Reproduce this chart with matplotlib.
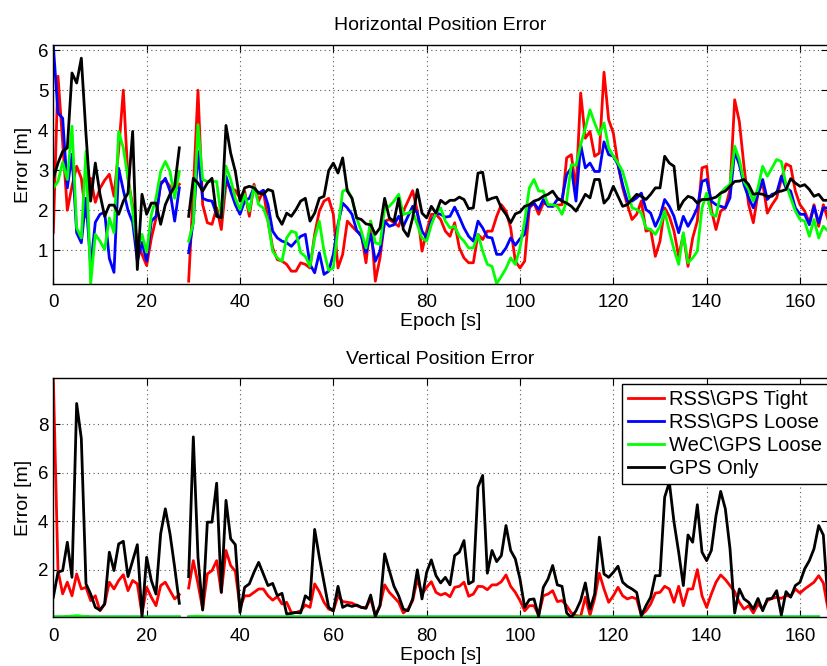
import numpy as np
import matplotlib
matplotlib.use('Agg')
import matplotlib.pyplot as plt

nan = np.nan

# horizontal position error [m], one value per epoch (0..166), gap at epoch 28
h_tight = [1.45, 5.35, 3.7, 2.0, 2.6, 3.1, 2.8, 1.83, 2.8, 2.2, 2.55, 2.75, 2.9, 2.35, 3.5, 5.0, 2.8, 2.1, 1.2, 0.9,
           0.62, 1.3, 1.8, 2.7, 2.75, 2.6, 2.5, 2.65, nan,
           0.23, 2.5, 5.0, 2.14, 1.69, 1.65, 2.06, 1.52, 2.68, 2.55, 2.5, 2.3, 2.48, 1.85, 2.65, 2.23, 2.5, 1.73, 1.06, 0.77,
           0.73, 0.65, 0.48, 0.48, 0.69, 0.65, 0.56, 1.4, 1.98, 2.23, 2.3, 1.9, 0.56, 0.9, 1.73, 1.6, 1.48,
           1.4, 0.69, 1.73, 0.23, 0.81, 1.73, 1.77, 1.69, 1.6, 1.98, 2.23, 2.49, 1.98, 0.98, 1.48, 1.9, 1.9, 1.77, 1.48,
           1.35, 1.69, 1.06, 0.81, 0.69, 0.69, 1.4, 1.27, 1.48, 1.48, 1.85, 2.14, 1.98,
           1.56, 0.73, 0.56, 0.73, 2.06, 2.18, 1.9, 2.18, 2.14, 2.1, 2.13, 2.14, 3.31, 3.39, 2.5, 4.93, 3.8, 3.97, 3.35,
           3.43, 5.45, 4.26, 3.93, 3.14, 2.56, 2.14, 1.77, 1.9, 2.23, 1.48, 1.52, 0.85, 1.23,
           2.06, 1.85, 1.48, 0.85, 1.4, 0.6, 1.31, 1.73, 3.06, 3.1, 2.02, 1.52, 1.98, 2.06, 2.52, 4.76, 4.22, 3.1, 2.14,
           1.69, 2.43, 2.68, 1.93, 2.14, 2.31, 2.77, 3.16, 3.1, 2.48, 2.14, 1.98, 1.69, 2.14, 1.6, 2.14, 1.77]

h_loose = [6.12, 4.43, 4.3, 2.56, 3.4, 1.44, 1.19, 2.3, 0.6, 1.7, 1.9, 1.95, 0.8, 0.45, 3.05, 2.5, 2.0, 1.7, 0.73, 1.2,
           0.73, 1.73, 1.85, 2.64, 2.8, 2.48, 1.73, 2.56, nan,
           0.94, 1.73, 3.47, 2.3, 2.25, 2.23, 1.9, 1.85, 2.85, 2.48, 2.14, 1.9, 2.23, 2.3, 2.56, 2.43, 2.5, 2.14, 1.48, 1.31,
           1.23, 1.19, 1.1, 1.23, 1.35, 1.4, 0.65, 0.44, 0.94, 0.4, 0.48, 0.9, 1.65, 2.18, 2.06, 1.9, 1.5,
           1.35, 0.94, 1.4, 0.73, 0.98, 1.73, 1.6, 1.64, 1.85, 1.6, 1.85, 2.1, 1.93, 1.48, 1.31, 1.73, 1.93, 1.9, 1.83,
           1.85, 2.08, 1.83, 1.56, 1.35, 1.23, 1.73, 1.56, 1.33, 1.31, 0.9, 0.9, 1.06,
           1.31, 1.13, 1.29, 1.4, 2.1, 2.18, 2.02, 2.27, 2.1, 2.1, 2.27, 2.27, 2.89, 3.06, 2.23, 3.64, 3.06, 3.18, 2.97,
           2.97, 3.71, 3.39, 3.35, 3.14, 2.64, 2.23, 2.23, 2.31, 2.43, 2.02, 1.93, 1.6, 1.85,
           2.27, 2.1, 1.85, 1.44, 1.85, 1.6, 1.81, 2.06, 2.72, 2.77, 2.23, 2.14, 2.1, 2.06, 2.31, 3.47, 3.14, 2.64, 2.31,
           2.06, 2.4, 2.77, 2.27, 2.4, 2.43, 2.85, 2.56, 2.48, 2.06, 1.9, 1.9, 1.64, 2.1, 1.69, 2.06, 2.06]

h_wec = [2.56, 2.72, 3.2, 2.77, 4.1, 1.56, 1.31, 3.47, 0.17, 1.4, 1.23, 1.02, 1.81, 1.44, 3.97, 3.56, 2.8, 1.98, 1.0, 1.4,
         0.95, 1.89, 2.3, 2.97, 3.22, 2.97, 2.3, 2.97, nan,
         1.23, 1.69, 4.14, 2.77, 2.72, 2.72, 2.72, 1.81, 3.1, 2.77, 2.3, 2.02, 2.4, 1.98, 2.6, 2.14, 2.06, 1.73, 0.98, 0.81,
         0.73, 1.31, 1.48, 1.44, 0.94, 0.85, 0.6, 1.31, 1.73, 0.98, 0.5, 0.56, 1.56, 2.48, 2.52, 2.3, 1.8,
         1.48, 1.06, 1.73, 1.19, 1.15, 2.06, 2.1, 2.23, 2.4, 1.9, 1.93, 1.98, 1.64, 1.31, 1.23, 1.64, 1.93, 2.06, 1.73,
         1.56, 1.6, 1.35, 1.23, 1.06, 1.06, 1.4, 0.98, 0.65, 0.6, 0.17, 0.35, 0.55,
         0.81, 0.65, 1.06, 1.73, 2.56, 2.77, 2.48, 2.48, 2.14, 2.14, 2.1, 1.9, 2.23, 3.14, 3.12, 3.64, 4.05, 4.51, 4.18,
         3.89, 4.18, 3.56, 3.35, 3.18, 2.97, 2.56, 2.06, 2.02, 1.93, 1.56, 1.52, 1.4, 1.6,
         1.98, 1.48, 1.02, 0.65, 1.44, 0.69, 0.81, 0.98, 2.06, 2.43, 1.9, 1.85, 2.43, 2.56, 2.64, 3.6, 3.27, 2.72, 2.52,
         2.23, 2.56, 3.1, 2.85, 3.06, 3.27, 3.22, 2.64, 2.31, 1.98, 1.77, 1.73, 1.35, 1.77, 1.31, 1.6, 1.48]

h_gps = [2.8, 3.18, 3.47, 3.56, 5.43, 5.18, 5.8, 3.9, 2.23, 3.18, 2.4, 1.85, 2.13, 2.13, 1.9, 2.23, 2.43, 3.97, 0.52, 2.4,
         1.9, 2.18, 2.18, 1.65, 2.14, 2.4, 2.6, 3.56, nan,
         1.85, 2.8, 2.68, 2.48, 2.68, 2.8, 1.85, 1.81, 4.12, 3.43, 2.97, 2.23, 2.56, 2.6, 2.56, 2.43, 2.4, 2.52, 2.48, 1.85,
         1.65, 1.93, 1.85, 2.02, 2.23, 2.3, 1.73, 1.93, 2.3, 2.35, 2.99, 3.18, 2.93, 3.31, 2.48, 2.3, 1.81,
         1.77, 1.66, 1.64, 1.4, 1.56, 2.3, 1.81, 1.73, 2.3, 1.52, 1.35, 1.81, 2.52, 1.93, 1.81, 2.1, 1.93, 2.25, 2.16,
         2.25, 2.25, 2.33, 2.27, 2.04, 2.06, 2.93, 2.95, 2.25, 2.3, 2.33, 2.06, 1.9,
         1.69, 1.91, 1.96, 2.1, 2.14, 2.23, 2.27, 2.35, 2.4, 2.48, 2.31, 2.23, 2.18, 2.1, 1.98, 2.18, 2.4, 2.31, 2.77,
         2.77, 2.18, 2.31, 2.6, 2.35, 2.1, 2.14, 2.27, 2.4, 2.35, 2.27, 2.4, 2.56, 2.56,
         3.35, 3.18, 3.1, 2.02, 2.23, 2.35, 2.31, 2.18, 2.27, 2.27, 2.29, 2.33, 2.43, 2.48, 2.6, 2.72, 2.73, 2.77, 2.64,
         2.4, 2.42, 2.4, 2.35, 2.35, 2.46, 2.48, 2.52, 2.79, 2.68, 2.6, 2.64, 2.52, 2.35, 2.4, 2.25, 2.25]

# vertical position error [m]
v_tight = [9.9, 1.96, 1.0, 1.48, 0.92, 1.82, 1.2, 1.27, 0.72, 0.92, 0.3, 0.58, 1.48, 1.2, 1.55, 1.79, 1.13, 1.55, 1.41,
           0.17, 1.27, 0.86, 0.51, 1.34, 1.48, 1.13, 0.79, 0.97, nan,
           1.24, 2.37, 1.41, 0.37, 1.82, 1.96, 2.37, 1.06, 2.79, 2.17, 1.93, 0.44, 0.92, 0.92, 1.06, 1.2, 1.2, 0.92, 0.74,
           0.88, 0.58, 0.65, 0.23, 0.23,
           0.3, 0.54, 0.44, 1.41, 1.09, 0.65, 0.37, 0.3, 0.92, 0.68, 0.65, 0.62, 0.51, 0.44, 0.44, 0.79, 0.1, 0.51, 1.37,
           1.06, 0.86, 0.65, 0.21, 0.37,
           0.72, 1.61, 0.99, 1.27, 1.5, 1.06, 0.95, 1.02, 0.88, 1.27, 1.31, 1.48, 0.9, 0.99, 1.31, 1.3, 1.17, 1.37, 1.37,
           1.5, 1.78, 1.31, 1.06, 0.72, 0.3, 0.51, 0.51, 0.12, 0.92, 0.99, 1.13, 0.68, 0.72, 0.51, 0.21, 0.1, 0.07, 0.86,
           0.12, 0.81, 1.85, 1.2, 0.65,
           0.92, 1.27, 0.92, 0.79, 0.86, 0.79, 0.12, 0.3, 0.58, 1.03, 1.06, 1.31, 1.2, 0.65, 1.31, 0.51, 1.2, 1.2, 2.0,
           0.92, 0.44, 0.99, 1.48, 1.78, 1.59, 1.34, 1.09, 0.65, 0.37, 0.51, 0.21, 0.58, 0.37, 0.72, 0.81, 0.86, 0.81,
           0.92, 0.9, 1.2, 1.03, 1.2, 1.34, 1.48, 1.75, 1.45, 0.37]

v_gps = [0.86, 1.89, 1.96, 3.13, 1.68, 8.86, 7.41, 1.41, 0.99, 0.44, 0.33, 0.58, 2.72, 1.96, 3.06, 3.17, 1.71, 2.37, 3.03,
         0.06, 2.51, 1.55, 0.99, 3.48, 4.51, 3.48, 2.1, 0.61, nan,
         1.71, 7.48, 2.51, 0.33, 3.96, 3.96, 5.57, 1.06, 4.86, 3.27, 3.03, 0.23, 1.27, 1.41, 1.89, 2.3, 1.82, 1.34, 1.43,
         0.92, 1.02, 0.17, 0.19, 0.23,
         0.21, 0.92, 0.76, 3.66, 2.51, 1.48, 0.44, 0.3, 1.31, 0.44, 0.54, 0.48, 0.54, 0.44, 0.4, 0.95, 0.07, 0.51, 2.65,
         1.96, 1.31, 0.92, 0.37, 0.3,
         0.79, 1.99, 0.79, 1.89, 2.4, 1.75, 1.45, 1.68, 1.37, 2.58, 2.72, 3.2, 1.41, 1.52, 5.41, 5.89, 1.85, 2.79, 2.33,
         2.58, 3.82, 2.79, 2.44, 1.61, 0.44, 0.76, 0.79, 0.07, 1.27, 1.61, 2.17, 1.37, 1.31, 0.21, 0.03, 0.3, 0.72, 1.45,
         0.37, 0.99, 3.34, 1.82, 1.68,
         1.89, 2.14, 1.48, 1.31, 1.2, 1.06, 0.1, 0.51, 0.86, 1.75, 1.75, 4.99, 5.61, 3.96, 2.72, 1.34, 3.43, 3.13, 4.68,
         2.72, 2.37, 2.79, 4.23, 5.23, 4.51, 2.86, 0.21, 1.2, 0.79, 0.65, 0.37, 0.81, 0.3, 0.79, 0.81, 1.13, 0.12,
         1.09, 0.86, 1.34, 1.48, 2.03, 2.37, 2.86, 3.82, 3.43, 0.65]

# loosely coupled vertical errors sit almost on zero
v_loose = [0.04, 0.04, 0.04, 0.05, 0.05, 0.06, 0.05, 0.05, 0.04, 0.04, 0.04, 0.04, 0.04, 0.04, 0.04, 0.04, 0.04, 0.04, 0.04,
           0.04, 0.04, 0.04, 0.04, 0.04, 0.04, 0.04, 0.04, 0.04, nan,
           0.04, 0.05, 0.05, 0.04, 0.04, 0.04, 0.04, 0.04, 0.04, 0.04, 0.04, 0.04, 0.04, 0.04, 0.04, 0.04, 0.04, 0.04, 0.04,
           0.04, 0.04, 0.04, 0.04, 0.04, 0.04, 0.04, 0.04, 0.04, 0.04, 0.04, 0.04, 0.04, 0.04, 0.04, 0.04, 0.04, 0.04,
           0.04, 0.04, 0.04, 0.04, 0.04, 0.04, 0.04, 0.04, 0.04, 0.04, 0.04, 0.04, 0.04, 0.04, 0.04, 0.04, 0.04, 0.04, 0.04,
           0.04, 0.04, 0.04, 0.04, 0.04, 0.04, 0.04, 0.04, 0.04, 0.04, 0.04, 0.04, 0.04, 0.04, 0.04, 0.04, 0.04, 0.04, 0.04,
           0.04, 0.04, 0.04, 0.04, 0.04, 0.04, 0.04, 0.04, 0.04, 0.04, 0.04, 0.04, 0.04, 0.04, 0.04, 0.04, 0.04, 0.04, 0.04,
           0.04, 0.04, 0.04, 0.04, 0.04, 0.04, 0.04, 0.04, 0.04, 0.04, 0.04, 0.04, 0.04, 0.04, 0.04, 0.04, 0.04, 0.04, 0.04,
           0.04, 0.04, 0.04, 0.04, 0.04, 0.04, 0.04, 0.04, 0.04, 0.04, 0.04, 0.04, 0.04, 0.04, 0.04, 0.04, 0.04, 0.04, 0.04,
           0.04, 0.04, 0.04, 0.04]
v_wec = [0.05, 0.05, 0.05, 0.06, 0.08, 0.1, 0.08, 0.06, 0.05, 0.05, 0.05, 0.05, 0.05, 0.05, 0.05, 0.05, 0.05, 0.05, 0.05,
         0.05, 0.05, 0.05, 0.05, 0.05, 0.05, 0.05, 0.05, 0.05, nan,
         0.05, 0.07, 0.08, 0.06, 0.05, 0.05, 0.05, 0.05, 0.05, 0.05, 0.05, 0.05, 0.05, 0.05, 0.05, 0.05, 0.05, 0.05, 0.05,
         0.05, 0.05, 0.05, 0.05, 0.05, 0.05, 0.05, 0.05, 0.05, 0.05, 0.05, 0.05, 0.05, 0.05, 0.05, 0.05, 0.05, 0.05,
         0.05, 0.05, 0.05, 0.05, 0.05, 0.05, 0.05, 0.05, 0.05, 0.05, 0.05, 0.05, 0.05, 0.05, 0.05, 0.05, 0.05, 0.05, 0.05,
         0.05, 0.05, 0.05, 0.05, 0.05, 0.05, 0.05, 0.05, 0.05, 0.05, 0.05, 0.05, 0.05, 0.05, 0.05, 0.05, 0.05, 0.05, 0.05,
         0.05, 0.05, 0.05, 0.05, 0.05, 0.05, 0.05, 0.05, 0.05, 0.05, 0.05, 0.05, 0.05, 0.05, 0.05, 0.05, 0.05, 0.05, 0.05,
         0.05, 0.05, 0.05, 0.05, 0.05, 0.05, 0.05, 0.05, 0.05, 0.05, 0.05, 0.05, 0.05, 0.05, 0.05, 0.05, 0.05, 0.05, 0.05,
         0.05, 0.05, 0.05, 0.05, 0.05, 0.05, 0.05, 0.05, 0.05, 0.05, 0.05, 0.05, 0.05, 0.05, 0.05, 0.05, 0.05, 0.05, 0.05,
         0.05, 0.05, 0.05, 0.05]

labels = ['RSS\\GPS Tight', 'RSS\\GPS Loose', 'WeC\\GPS Loose', 'GPS Only']
colors = ['#ff0000', '#0000ff', '#00ff00', '#000000']

plt.rcParams['font.family'] = ['Liberation Sans', 'DejaVu Sans']
plt.rcParams['font.size'] = 14

fig = plt.figure(figsize=(8.28, 6.66), dpi=100)
ax1 = fig.add_axes([0.0644, 0.5736, 0.9356, 0.3589])
ax2 = fig.add_axes([0.0644, 0.0731, 0.9356, 0.3589])


def style(ax):
    ax.grid(True, linestyle=(0, (1, 3)), color='0.35', linewidth=0.8)
    ax.tick_params(direction='in', top=True, right=True, length=5, width=0.8, labelsize=13.5)
    ax.tick_params(axis='x', pad=7.5)
    for sp in ax.spines.values():
        sp.set_linewidth(1.0)
    ax.set_xlim(0, 166)
    ax.set_xticks(np.arange(0, 161, 20))
    ax.set_xlabel('Epoch [s]', labelpad=1.5)
    ax.set_ylabel('Error [m]', labelpad=4)


for s, c, l in zip([h_tight, h_loose, h_wec, h_gps], colors, labels):
    ax1.plot(np.arange(len(s)), s, color=c, lw=2.0, label=l)
style(ax1)
ax1.set_ylim(0.16, 6.13)
ax1.set_yticks([1, 2, 3, 4, 5, 6])
ax1.set_title('Horizontal Position Error', fontsize=14, pad=10.5)

for s, c, l in zip([v_tight, v_loose, v_wec, v_gps], colors, labels):
    ax2.plot(np.arange(len(s)), s, color=c, lw=2.0, label=l)
style(ax2)
ax2.set_ylim(0.03, 9.9)
ax2.set_yticks([2, 4, 6, 8])
ax2.set_title('Vertical Position Error', fontsize=14, pad=10.5)
leg = ax2.legend(loc='upper right', bbox_to_anchor=(1.0, 0.975), borderaxespad=0, fancybox=False,
                 edgecolor='k', framealpha=1, fontsize=14.5, handlelength=1.8, labelspacing=0.2,
                 borderpad=0.3, handletextpad=0.25)
leg.get_frame().set_linewidth(1.0)

fig.savefig('out.png', dpi=100)
